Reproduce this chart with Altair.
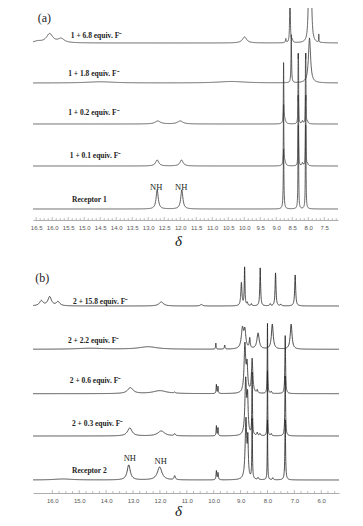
import altair as alt
import numpy as np
import pandas as pd

# ---------------- Panel (a) ----------------
a_names = ["1 + 6.8 equiv. F⁻", "1 + 1.8 equiv. F⁻", "1 + 0.2 equiv. F⁻",
           "1 + 0.1 equiv. F⁻", "Receptor 1"]
a_offsets = [177, 137, 96, 54, 11]          # stacking baseline of each trace
a_label_ppm = [15.42, 15.50, 15.50, 15.45, 15.38]
a_label_dy = [7, 9, 11, 10, 9]
# peaks: (shift ppm, height, half-width ppm)
a_peaks = [
    [(16.45, 1.5, 0.15), (16.08, 9, 0.12), (15.72, 4, 0.12), (9.99, 6, 0.08),
     (8.70, 4, 0.012), (8.57, 70, 0.01), (8.50, 3, 0.02), (7.98, 60, 0.025),
     (7.91, 60, 0.025), (7.67, 8, 0.005)],
    [(14.5, 1.2, 0.5), (10.4, 1.5, 0.5), (8.53, 48, 0.01), (7.96, 45, 0.04)],
    [(12.70, 3, 0.1), (12.00, 3, 0.1), (8.77, 60, 0.008), (8.73, 4, 0.03),
     (8.315, 55, 0.006), (8.305, 55, 0.006), (8.18, 3, 0.02),
     (8.085, 55, 0.006), (8.075, 55, 0.006), (8.02, 2, 0.02)],
    [(12.72, 6, 0.06), (11.96, 6, 0.06), (8.77, 60, 0.008), (8.73, 4, 0.03),
     (8.315, 55, 0.006), (8.305, 55, 0.006), (8.18, 3, 0.02),
     (8.085, 55, 0.006), (8.075, 55, 0.006), (8.02, 2, 0.02)],
    [(12.72, 19, 0.04), (11.95, 19, 0.04), (8.77, 60, 0.012),
     (8.315, 58, 0.008), (8.305, 58, 0.008), (8.085, 58, 0.008), (8.075, 58, 0.008)],
]
a_domain = [16.6, 7.07]
a_nh = [(12.75, 33, "NH"), (11.97, 33, "NH")]
a_tag = (16.45, 202, "(a)")
a_major = [16.5, 16.0, 15.5, 15.0, 14.5, 14.0, 13.5, 13.0, 12.5, 12.0, 11.5,
           11.0, 10.5, 10.0, 9.5, 9.0, 8.5, 8.0, 7.5]
a_minor_step = 0.125

# ---------------- Panel (b) ----------------
b_names = ["2 + 15.8 equiv. F⁻", "2 + 2.2 equiv. F⁻", "2 + 0.6 equiv. F⁻",
           "2 + 0.3 equiv. F⁻", "Receptor 2"]
b_offsets = [187, 143.7, 99.3, 57, 13]
b_label_ppm = [15.23, 15.42, 15.35, 15.27, 15.27]
b_label_dy = [4, 8.6, 13, 12, 9]
b_peaks = [
    [(16.41, 5, 0.08), (16.10, 9, 0.08), (15.79, 4, 0.08), (11.95, 4, 0.1),
     (10.46, 1.5, 0.05), (8.97, 23, 0.025), (8.85, 38, 0.015), (8.75, 3, 0.02),
     (8.60, 2, 0.02), (8.27, 38, 0.018), (7.90, 2, 0.02), (7.70, 33, 0.02),
     (7.50, 1.5, 0.02), (6.97, 31, 0.022)],
    [(14.6, 1, 0.6), (12.44, 2.5, 0.4), (9.92, 6, 0.012), (9.59, 4, 0.015),
     (8.93, 20, 0.05), (8.84, 17, 0.04), (8.66, 10, 0.02), (8.35, 16, 0.05),
     (7.82, 25, 0.04), (7.12, 25, 0.04)],
    [(13.10, 6, 0.12), (12.00, 3, 0.3), (11.45, 1, 0.03), (9.90, 9, 0.012),
     (9.84, 7, 0.012), (8.84, 48, 0.035), (8.76, 26, 0.03), (8.57, 34, 0.03),
     (8.38, 3, 0.02), (8.00, 70, 0.01), (7.86, 2, 0.02), (7.34, 58, 0.015)],
    [(13.12, 8, 0.1), (11.95, 5, 0.15), (11.45, 2, 0.03), (9.90, 10, 0.012),
     (9.84, 8, 0.012), (8.81, 55, 0.035), (8.74, 35, 0.025), (8.57, 62, 0.012),
     (8.38, 3, 0.02), (8.28, 2, 0.02), (8.00, 65, 0.01), (7.86, 2, 0.02),
     (7.34, 60, 0.015)],
    [(15.6, 1, 0.4), (13.16, 15, 0.07), (12.01, 13, 0.1), (11.45, 4, 0.03),
     (9.90, 9, 0.015), (9.84, 7, 0.015), (8.80, 60, 0.035), (8.73, 35, 0.02),
     (8.57, 60, 0.012), (8.35, 2, 0.02), (8.00, 60, 0.01), (7.80, 2, 0.02),
     (7.34, 60, 0.015)],
]
b_domain = [16.72, 5.34]
b_nh = [(13.12, 34.7, "NH"), (11.97, 31.7, "NH")]
b_tag = (16.64, 215, "(b)")
b_major = [16.0, 15.0, 14.0, 13.0, 12.0, 11.0, 10.0, 9.0, 8.0, 7.0, 6.0]
b_minor_step = 0.25


def build(names, offsets, peaks, dom, step):
    lo, hi = min(dom), max(dom)
    frames = []
    for k, (name, off, pk) in enumerate(zip(names, offsets, peaks)):
        parts = [np.arange(lo, hi + step, step), np.array([c for c, _, _ in pk])]
        for c, h, w in pk:
            if w < 0.06:
                parts.append(np.arange(c - 15 * w, c + 15 * w, w / 4))
        xs = np.unique(np.round(np.concatenate(parts), 4))
        xs = xs[(xs >= lo) & (xs <= hi)]
        ys = np.full_like(xs, off, dtype=float)
        for c, h, w in pk:
            ys += h * w * w / ((xs - c) ** 2 + w * w)
        frames.append(pd.DataFrame({"ppm": xs, "y": np.round(ys, 3), "s": k}))
    return pd.concat(frames, ignore_index=True)


def labels(names, offsets, lppm, ldy):
    return pd.DataFrame({"ppm": lppm,
                         "y": [o + d for o, d in zip(offsets, ldy)],
                         "t": names})


def panel(df, lab, nh, tag, dom, height, width, major, minor_step, color,
          title_y, title_x):
    xscale = alt.Scale(domain=dom, nice=False, zero=False)
    yscale = alt.Scale(domain=[0, height], nice=False, zero=False)
    main_axis = alt.Axis(values=major, format=".1f", orient="bottom",
                         title="δ", titleFont="Liberation Serif",
                         titleFontStyle="italic", titleFontWeight="normal",
                         titleFontSize=15, titleColor="#111",
                         titleY=title_y, titleX=title_x,
                         titleBaseline="alphabetic", titleAlign="center",
                         labelFont="Liberation Sans", labelFontSize=6,
                         labelColor="#555", labelPadding=4,
                         labelOverlap=False, labelSeparation=0,
                         labelFlush=False, ticks=False,
                         domainColor="#888", domainWidth=0.7, grid=False)

    def X():
        return alt.X("ppm:Q", scale=xscale, axis=main_axis)

    def Y(field):
        return alt.Y(field, scale=yscale, axis=None)

    lines = alt.Chart(df).mark_line(clip=True, strokeWidth=0.8, color=color).encode(
        x=X(), y=Y("y:Q"), detail="s:N", order="ppm:Q",
    )
    minor = [round(v, 3) for v in np.arange(max(major), min(dom), -minor_step)
             if v <= max(dom)]
    tick_df = pd.DataFrame({"ppm": minor,
                            "base": [0.0] * len(minor),
                            "len": [2.8 if any(abs(v - m) < 1e-6 for m in major)
                                    else 1.8 for v in minor]})
    ticks = alt.Chart(tick_df).mark_rule(color="#888", strokeWidth=0.6).encode(
        x=X(), y=Y("base:Q"), y2="len:Q",
    )
    txt = alt.Chart(lab).mark_text(align="left", baseline="middle",
                                   font="Liberation Serif", fontSize=7.5,
                                   fontWeight="bold", color="#222").encode(
        x=X(), y=Y("y:Q"), text="t:N")
    nhdf = pd.DataFrame(nh, columns=["ppm", "y", "t"])
    nht = alt.Chart(nhdf).mark_text(align="center", baseline="middle",
                                    font="Liberation Serif", fontSize=8.5,
                                    color="#222").encode(
        x=X(), y=Y("y:Q"), text="t:N")
    tagdf = pd.DataFrame([tag], columns=["ppm", "y", "t"])
    tagt = alt.Chart(tagdf).mark_text(align="left", baseline="middle",
                                      font="Liberation Serif", fontSize=12,
                                      color="#222").encode(
        x=X(), y=Y("y:Q"), text="t:N")
    return alt.layer(lines, ticks, txt, nht, tagt).properties(
        width=width, height=height)


dfa = build(a_names, a_offsets, a_peaks, a_domain, 0.01)
dfb = build(b_names, b_offsets, b_peaks, b_domain, 0.01)

pa = panel(dfa, labels(a_names, a_offsets, a_label_ppm, a_label_dy), a_nh, a_tag,
           a_domain, 212, 305, a_major, a_minor_step, "#3a3a3a", 25, 145)
pb = panel(dfb, labels(b_names, b_offsets, b_label_ppm, b_label_dy), b_nh, b_tag,
           b_domain, 237, 306, b_major, b_minor_step, "#1e1e1e", 22.5, 145)

chart = alt.vconcat(pa, pb, spacing=8).properties(
    padding={"left": 22, "top": 0, "right": 4, "bottom": 4},
    background="white",
).configure_view(stroke=None).configure_axis(labelOverlap=False)

chart.save("out.html", embed_options={"renderer": "svg", "actions": False})
